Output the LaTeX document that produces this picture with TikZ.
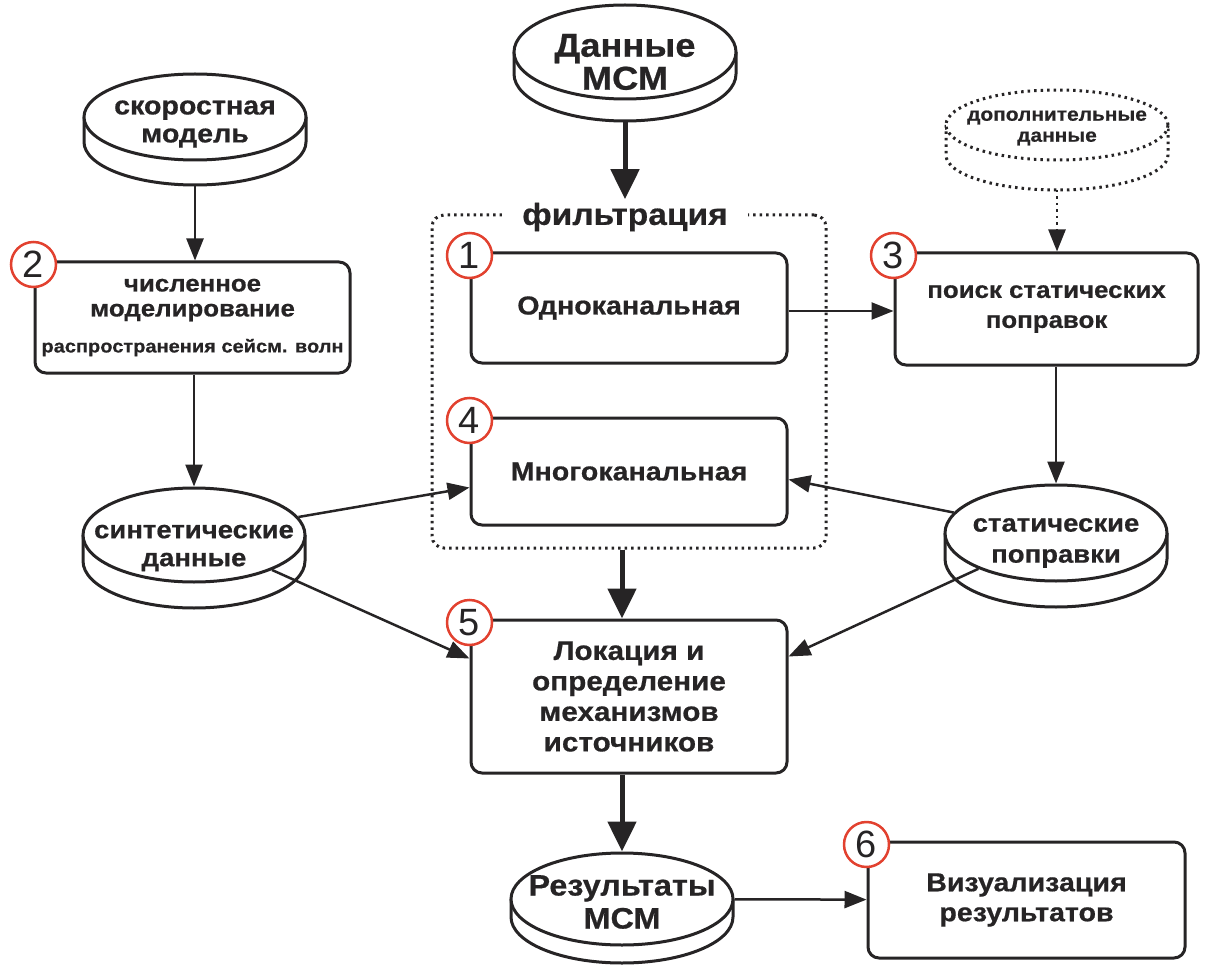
\documentclass[tikz,border=0pt]{standalone}
\usepackage{fontspec}
\setmainfont{Liberation Sans}[BoldFeatures={FakeStretch=1.1,FakeBold=0.6}]
\usepackage{tikz}
\usetikzlibrary{arrows.meta}
\usetikzlibrary{calc}
\usetikzlibrary{shapes.geometric}
\definecolor{ink}{HTML}{262425}
\definecolor{rim}{HTML}{E2412F}
\tikzset{box/.style={draw=ink,line width=3pt,rounded corners=11pt,fill=white,align=center,text=ink,font=\bfseries\fontsize{26}{30}\selectfont}}
\tikzset{num/.style={circle,draw=rim,line width=2.5pt,fill=white,minimum size=45pt,inner sep=0pt,text=ink,font=\fontsize{38}{38}\selectfont}}
\tikzset{face/.style={ellipse,draw=ink,line width=3pt,fill=white,minimum width=222pt,inner sep=0pt}}
\tikzset{dots/.style={dash pattern=on 2.5pt off 4pt}}
\tikzset{arr/.style={draw=ink,line width=2.5pt,-{Triangle[length=22pt,width=17pt]}}}
\tikzset{fat/.style={draw=ink,line width=5pt,-{Triangle[length=30pt,width=28pt]}}}

% disk: [style]{name}{centre}{half height}{depth}{text shift}{font size}{text}
\newcommand{\disk}[8][]{%
  \fill[white] ($(#3)+(-111,0)$) -- ++(0,#5) arc (180:360:111pt and #4pt) -- ++(0,-#5) -- cycle;
  \draw[ink,line width=3pt,#1] ($(#3)+(-111,0)$) -- ++(0,#5) arc (180:360:111pt and #4pt) -- ++(0,-#5);
  \node[face,minimum height=#4*2pt,#1] (#2) at (#3) {};
  \node[align=center,text=ink,font=\bfseries#7\selectfont] (#2-t) at ($(#3)+(0,#6)$) {#8};
  \coordinate (#2-b) at ($(#3)+(0,#4+#5)$);
}

\begin{document}
\begin{tikzpicture}[x=1pt,y=-1pt]
  \useasboundingbox (0,0) rectangle (1217,965);
  \disk{velmod}{195,117}{43}{25}{7}{\fontsize{26}{28}}{скоростная\\модель}
  \disk{msmdata}{625,52}{47}{22}{10}{\fontsize{33}{33}}{Данные\\МСМ}
  \disk[dots]{extra}{1057,125}{35}{30}{3}{\fontsize{19}{21}}{дополнительные\\данные}
  \disk{synth}{194,535}{47}{26}{13}{\fontsize{25}{28}}{синтетические\\данные}
  \disk{statcorr}{1056,533}{48}{26}{10}{\fontsize{25}{31}}{статические\\поправки}
  \disk{results}{622,899}{46}{18}{3}{\fontsize{29.5}{33}}{Результаты\\МСМ}

  \node[draw=ink,line width=3pt,dots,rounded corners=12pt,minimum width=394pt,minimum height=333pt] (filtbox) at (629,381.5) {};
  \node[fill=white,inner xsep=20pt,text=ink,font=\bfseries\fontsize{30.5}{30}\selectfont] (filt) at (625,217) {фильтрация};

  \node[box,minimum width=315pt,minimum height=111pt,font=\bfseries\fontsize{23.5}{25}\selectfont] (model) at (192.5,317.5)
    {численное\\моделирование\\[11pt]{\fontsize{18.2}{22}\selectfont распространения сейсм. волн}};
  \node[box,minimum width=316pt,minimum height=110pt] (single) at (629,308) {\raisebox{-4pt}{Одноканальная}};
  \node[box,minimum width=303pt,minimum height=112pt,font=\bfseries\fontsize{23.5}{30}\selectfont] (statics) at (1046.5,309) {поиск статических\\поправок};
  \node[box,minimum width=316pt,minimum height=107pt] (multi) at (629,471.5) {Многоканальная};
  \node[box,minimum width=316pt,minimum height=153pt,font=\bfseries\fontsize{27}{30.5}\selectfont] (locate) at (629,696.5) {Локация и\\определение\\механизмов\\источников};
  \node[box,minimum width=317pt,minimum height=116pt] (visual) at (1026.5,900) {Визуализация\\результатов};

  \node[num] (n1) at ([shift={(0,4)}]single.north west) {1};
  \node[num] (n2) at ([shift={(0,4)}]model.north west) {2};
  \node[num] (n3) at ([shift={(0,4)}]statics.north west) {3};
  \node[num] (n4) at ([shift={(0,4)}]multi.north west) {4};
  \node[num] (n5) at ([shift={(0,4)}]locate.north west) {5};
  \node[num] (n6) at ([shift={(0,4)}]visual.north west) {6};

  \draw[arr] (velmod-b) -- (velmod-b |- model.north);
  \draw[arr] (model.south -| synth) -- (synth.north);
  \draw[fat] (msmdata-b) -- (msmdata-b |- filt.north);
  \draw[arr] ([yshift=-3pt]single.east) -- ([yshift=-3pt]single.east -| statics.west);
  \draw[arr,dots] (extra-b) -- (extra-b |- statics.north);
  \draw[arr] (statics.south -| statcorr) -- (statcorr.north);
  \draw[arr] (synth) -- ([yshift=-16pt]multi.west);
  \draw[arr] (statcorr) -- ([yshift=-8pt]multi.east);
  \draw[arr] (synth) -- ([yshift=38pt]locate.west);
  \draw[arr] (statcorr) -- ([yshift=40pt]locate.east);
  \draw[fat] (filtbox.south -| results) -- (locate.north -| results);
  \draw[fat] (locate.south -| results) -- (results.north);
  \draw[arr] (results) -- (visual);
\end{tikzpicture}
\end{document}
